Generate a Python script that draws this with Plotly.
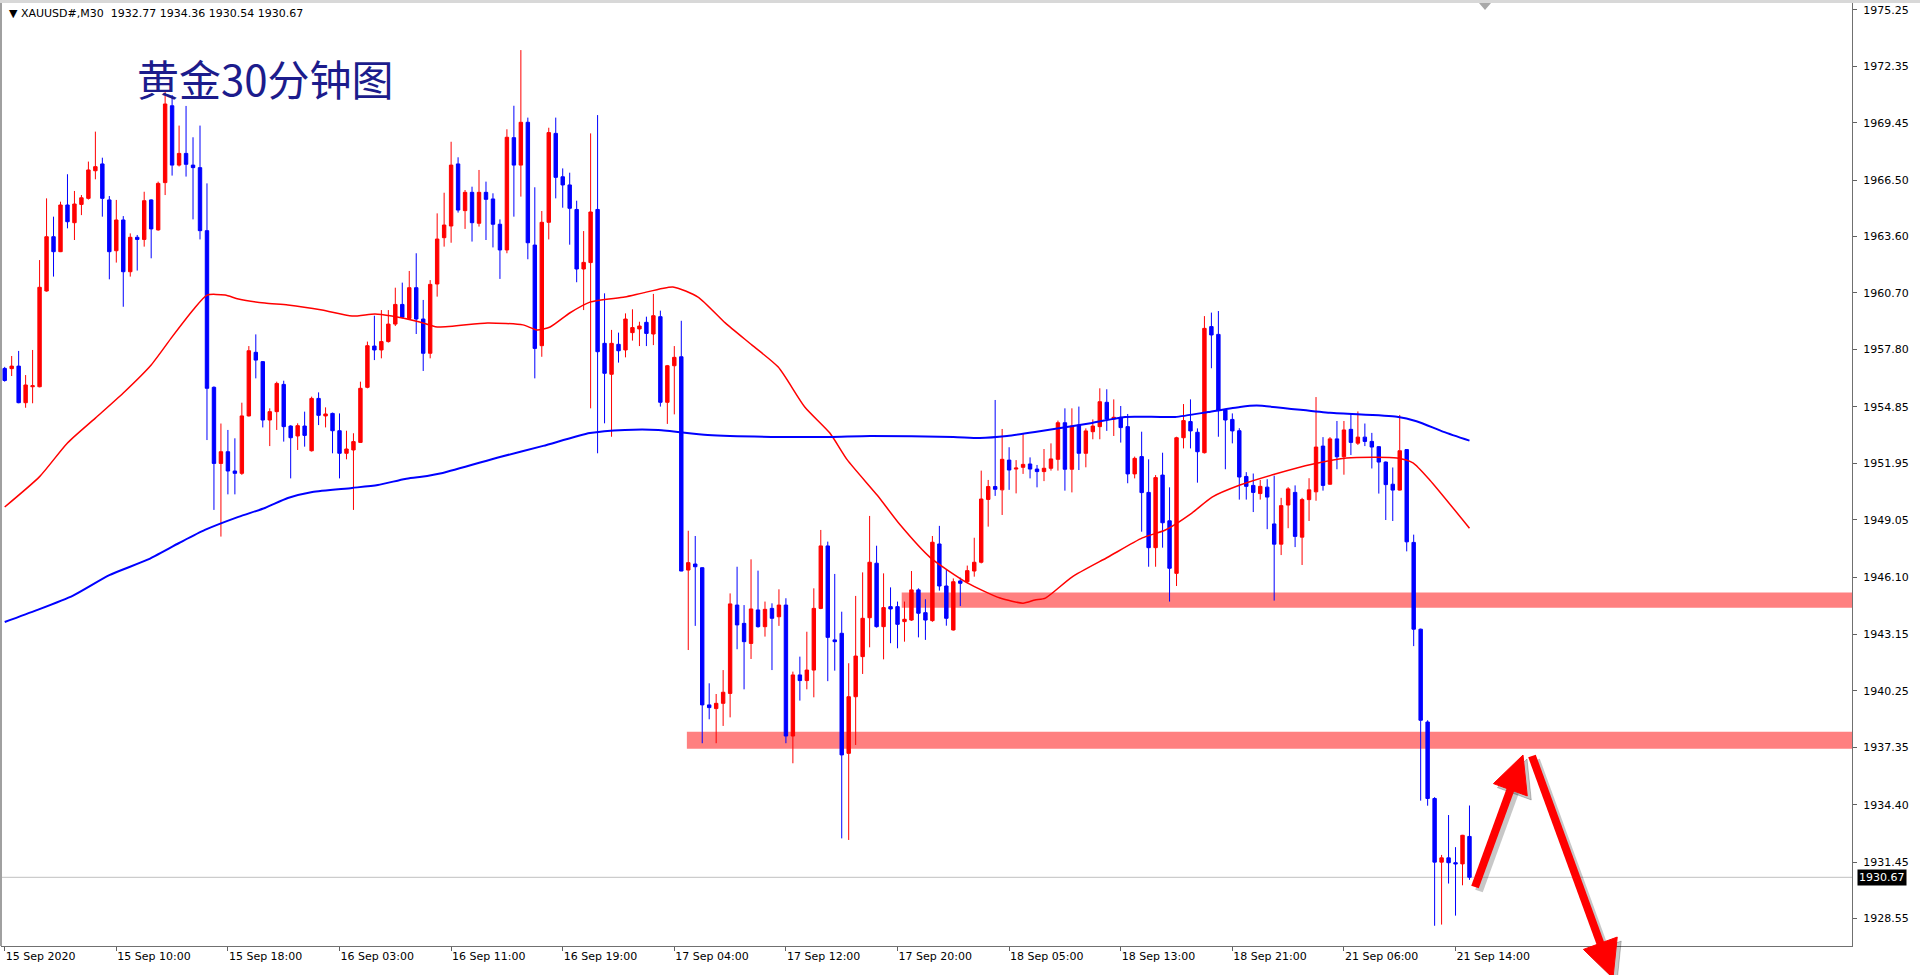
import plotly.graph_objects as go

# ---------------- data ----------------
opens = [1956.82, 1956.81, 1956.94, 1955.06, 1955.88, 1955.88, 1960.80, 1963.59, 1962.82, 1965.22,
         1964.31, 1965.25, 1965.56, 1966.98, 1967.33, 1965.48, 1962.87, 1964.45, 1961.79, 1963.56,
         1963.45, 1965.48, 1963.94, 1966.37, 1970.32, 1967.27, 1967.87, 1967.27, 1967.14, 1963.90,
         1955.85, 1951.94, 1952.54, 1951.55, 1951.43, 1954.38, 1957.65, 1957.17, 1954.17, 1954.60,
         1956.00, 1953.86, 1953.35, 1953.86, 1952.59, 1955.28, 1954.38, 1954.51, 1953.62, 1952.46,
         1952.63, 1953.02, 1955.85, 1957.97, 1957.77, 1958.20, 1959.10, 1960.11, 1959.39, 1960.97,
         1959.36, 1957.60, 1961.16, 1963.54, 1964.14, 1967.33, 1964.93, 1965.87, 1964.28, 1965.87,
         1965.53, 1964.23, 1962.91, 1968.68, 1967.27, 1969.47, 1963.16, 1957.99, 1964.33, 1968.90,
         1966.67, 1966.25, 1964.99, 1961.93, 1962.26, 1964.99, 1958.11, 1956.52, 1958.06, 1957.77,
         1958.66, 1958.85, 1959.19, 1958.59, 1959.48, 1955.08, 1956.96, 1957.42, 1946.46, 1946.77,
         1946.58, 1939.53, 1939.34, 1939.61, 1940.12, 1944.66, 1943.72, 1942.69, 1944.41, 1943.55,
         1944.49, 1944.06, 1944.66, 1937.93, 1941.07, 1940.78, 1941.32, 1944.49, 1947.70, 1942.87,
         1943.21, 1937.04, 1939.95, 1942.01, 1944.01, 1946.81, 1943.55, 1944.58, 1944.58, 1943.81,
         1943.89, 1945.44, 1944.27, 1943.86, 1947.80, 1945.64, 1943.38, 1945.90, 1945.86, 1946.41,
         1946.86, 1950.09, 1950.75, 1950.58, 1952.11, 1951.65, 1951.74, 1951.91, 1951.65, 1951.52,
         1951.69, 1952.15, 1954.03, 1951.64, 1953.91, 1952.46, 1953.57, 1953.83, 1955.08, 1954.22,
         1954.31, 1953.83, 1951.40, 1952.29, 1950.45, 1947.61, 1951.34, 1948.99, 1946.29, 1953.26,
         1954.09, 1953.54, 1952.49, 1958.97, 1958.57, 1954.68, 1954.20, 1953.62, 1951.27, 1950.81,
         1950.39, 1950.72, 1948.83, 1947.79, 1949.80, 1950.45, 1948.15, 1950.08, 1950.48, 1952.83,
         1950.87, 1953.20, 1952.28, 1953.69, 1952.98, 1953.29, 1953.07, 1952.80, 1952.01, 1950.87,
         1950.57, 1952.65, 1947.88, 1943.42, 1938.65, 1934.72, 1931.45, 1931.67, 1931.42, 1931.36,
         1932.77]
highs = [1956.90, 1957.46, 1957.72, 1956.48, 1957.77, 1962.39, 1965.56, 1964.62, 1965.39, 1966.80,
         1965.94, 1965.73, 1967.45, 1968.99, 1967.65, 1965.68, 1965.48, 1964.65, 1963.76, 1963.68,
         1965.90, 1965.51, 1966.42, 1971.04, 1970.87, 1969.30, 1970.31, 1968.70, 1969.30, 1966.33,
         1955.90, 1953.99, 1953.66, 1953.23, 1955.06, 1957.97, 1958.57, 1957.20, 1954.77, 1956.14,
         1956.19, 1953.90, 1954.00, 1954.60, 1955.37, 1955.59, 1954.82, 1954.55, 1954.51, 1953.62,
         1953.49, 1956.14, 1958.20, 1959.53, 1959.82, 1959.82, 1960.97, 1961.23, 1961.83, 1962.74,
         1960.34, 1961.36, 1964.79, 1965.85, 1968.47, 1967.67, 1965.99, 1966.16, 1967.02, 1966.42,
         1965.82, 1964.48, 1969.11, 1970.32, 1973.18, 1969.71, 1966.13, 1964.91, 1969.19, 1969.71,
         1967.10, 1966.88, 1965.44, 1963.88, 1968.90, 1969.84, 1960.68, 1958.80, 1958.66, 1959.65,
         1959.86, 1959.22, 1959.48, 1960.65, 1959.79, 1957.00, 1957.97, 1959.27, 1948.48, 1948.21,
         1946.60, 1940.64, 1940.09, 1941.32, 1945.26, 1946.63, 1944.66, 1947.01, 1946.43, 1944.84,
         1944.75, 1945.47, 1945.01, 1941.24, 1942.01, 1943.29, 1945.52, 1948.52, 1947.92, 1946.26,
         1944.32, 1941.67, 1945.13, 1946.34, 1949.24, 1947.71, 1946.29, 1945.57, 1944.84, 1944.84,
         1946.41, 1945.52, 1944.96, 1948.21, 1948.73, 1946.50, 1946.03, 1946.07, 1946.69, 1948.12,
         1951.57, 1951.09, 1955.20, 1953.71, 1952.77, 1952.11, 1953.49, 1952.25, 1951.86, 1952.68,
         1952.97, 1954.14, 1954.77, 1954.77, 1954.86, 1953.74, 1954.20, 1955.80, 1955.75, 1955.23,
         1954.89, 1954.48, 1952.29, 1953.57, 1952.15, 1951.34, 1952.49, 1950.71, 1953.31, 1954.99,
         1955.23, 1953.74, 1959.51, 1959.69, 1959.77, 1954.70, 1954.51, 1953.75, 1951.49, 1951.42,
         1951.09, 1951.13, 1951.31, 1950.17, 1950.72, 1950.81, 1950.17, 1951.18, 1955.35, 1953.29,
         1953.29, 1954.12, 1954.12, 1954.48, 1954.61, 1953.99, 1953.51, 1952.83, 1952.04, 1951.73,
         1954.43, 1952.65, 1948.28, 1943.45, 1938.74, 1934.79, 1931.82, 1933.87, 1932.22, 1932.85,
         1934.36]
lows = [1956.14, 1956.43, 1955.03, 1954.80, 1955.03, 1955.85, 1960.77, 1961.54, 1962.80, 1964.02,
        1963.42, 1964.70, 1965.50, 1966.54, 1964.62, 1961.40, 1962.26, 1959.99, 1961.54, 1961.85,
        1963.08, 1962.48, 1963.90, 1965.73, 1966.73, 1967.20, 1966.68, 1964.48, 1963.45, 1953.14,
        1949.55, 1948.18, 1950.35, 1950.35, 1951.35, 1954.35, 1956.31, 1953.79, 1952.83, 1953.66,
        1953.06, 1951.17, 1952.63, 1952.80, 1952.55, 1953.91, 1953.79, 1952.46, 1951.17, 1952.15,
        1949.55, 1953.00, 1955.80, 1957.25, 1957.34, 1958.15, 1959.00, 1959.39, 1959.35, 1958.59,
        1956.69, 1957.34, 1960.51, 1963.08, 1963.28, 1964.83, 1963.99, 1963.34, 1964.11, 1963.42,
        1963.04, 1961.42, 1962.74, 1964.62, 1965.65, 1962.43, 1956.31, 1957.42, 1963.45, 1965.56,
        1965.08, 1963.18, 1961.25, 1959.82, 1954.77, 1952.46, 1954.00, 1953.31, 1957.12, 1957.39,
        1958.25, 1957.97, 1957.97, 1958.02, 1954.86, 1953.97, 1954.46, 1946.40, 1942.35, 1943.59,
        1937.56, 1938.79, 1937.56, 1938.45, 1938.89, 1942.39, 1940.33, 1941.89, 1943.50, 1943.04,
        1941.32, 1943.59, 1937.56, 1936.53, 1939.75, 1940.33, 1939.92, 1944.45, 1940.75, 1941.29,
        1932.67, 1932.59, 1937.47, 1941.12, 1942.49, 1943.50, 1941.87, 1942.70, 1942.44, 1942.78,
        1943.85, 1943.00, 1942.87, 1943.80, 1945.40, 1943.60, 1943.35, 1944.61, 1945.78, 1946.12,
        1946.80, 1948.69, 1950.27, 1949.29, 1950.58, 1950.40, 1951.40, 1951.17, 1950.71, 1951.03,
        1951.57, 1951.57, 1950.54, 1950.45, 1951.60, 1951.74, 1953.18, 1953.18, 1953.61, 1953.35,
        1953.01, 1950.92, 1951.17, 1948.43, 1946.63, 1946.63, 1947.61, 1944.84, 1945.64, 1952.71,
        1952.71, 1950.95, 1952.45, 1956.83, 1953.31, 1951.64, 1952.97, 1950.08, 1950.08, 1949.44,
        1950.08, 1948.56, 1944.89, 1947.23, 1948.61, 1947.64, 1946.72, 1948.98, 1950.02, 1950.54,
        1950.85, 1951.64, 1951.36, 1952.37, 1952.89, 1952.83, 1951.68, 1950.39, 1949.03, 1948.98,
        1950.55, 1947.42, 1942.55, 1934.61, 1934.35, 1928.18, 1928.24, 1930.35, 1928.70, 1930.26,
        1930.54]
closes = [1956.20, 1956.94, 1955.06, 1955.97, 1955.93, 1960.99, 1963.59, 1962.82, 1965.22, 1964.36,
          1965.27, 1965.59, 1967.02, 1967.19, 1965.56, 1962.82, 1964.45, 1961.79, 1963.56, 1963.45,
          1965.44, 1963.99, 1966.33, 1970.41, 1967.27, 1967.87, 1967.31, 1967.14, 1963.90, 1955.80,
          1951.94, 1952.54, 1951.55, 1951.43, 1954.38, 1957.73, 1957.25, 1954.17, 1954.60, 1956.05,
          1953.83, 1953.26, 1953.88, 1953.38, 1955.28, 1954.41, 1954.48, 1953.62, 1952.46, 1952.68,
          1953.06, 1955.80, 1957.99, 1957.77, 1958.20, 1959.10, 1960.11, 1959.45, 1960.97, 1959.36,
          1957.60, 1961.14, 1963.47, 1964.19, 1967.27, 1964.96, 1965.87, 1964.31, 1965.87, 1965.51,
          1964.23, 1962.91, 1968.70, 1967.27, 1969.47, 1963.28, 1957.85, 1964.33, 1968.94, 1966.64,
          1966.25, 1965.05, 1961.93, 1962.27, 1964.86, 1957.68, 1956.57, 1958.11, 1957.73, 1959.36,
          1958.92, 1959.00, 1958.62, 1959.53, 1955.08, 1956.96, 1957.39, 1946.41, 1946.84, 1946.63,
          1939.53, 1939.39, 1939.61, 1940.18, 1944.72, 1943.64, 1942.78, 1944.46, 1943.55, 1944.44,
          1943.98, 1944.66, 1937.93, 1941.07, 1940.78, 1941.32, 1944.49, 1947.70, 1943.00, 1942.78,
          1936.96, 1939.95, 1942.04, 1943.98, 1946.86, 1943.55, 1944.53, 1944.46, 1943.67, 1943.93,
          1945.44, 1944.24, 1943.89, 1947.89, 1945.64, 1943.98, 1945.86, 1945.78, 1946.43, 1946.86,
          1950.11, 1950.75, 1950.61, 1952.15, 1951.60, 1951.70, 1951.89, 1951.65, 1951.52, 1951.69,
          1952.17, 1954.03, 1951.64, 1953.86, 1952.46, 1953.61, 1953.86, 1955.11, 1954.22, 1954.31,
          1953.78, 1951.40, 1952.20, 1950.44, 1947.61, 1951.21, 1948.89, 1946.55, 1953.26, 1954.14,
          1953.61, 1952.54, 1958.88, 1958.54, 1954.68, 1954.17, 1953.61, 1951.24, 1950.76, 1950.45,
          1950.76, 1950.21, 1947.79, 1949.77, 1950.63, 1948.19, 1950.08, 1950.58, 1952.78, 1950.81,
          1953.20, 1952.28, 1953.66, 1953.02, 1953.29, 1953.07, 1952.78, 1952.01, 1950.85, 1950.57,
          1952.59, 1947.91, 1943.42, 1938.74, 1934.72, 1931.45, 1931.67, 1931.42, 1931.36, 1932.83,
          1930.67]
bar_index = list(range(len(opens)))

tick_positions = [0, 16, 32, 48, 64, 80, 96, 112, 128, 144, 160, 176, 192, 208]
tick_labels = ["15 Sep 2020", "15 Sep 10:00", "15 Sep 18:00", "16 Sep 03:00", "16 Sep 11:00",
               "16 Sep 19:00", "17 Sep 04:00", "17 Sep 12:00", "17 Sep 20:00", "18 Sep 05:00",
               "18 Sep 13:00", "18 Sep 21:00", "21 Sep 06:00", "21 Sep 14:00"]

price_ticks = [1975.25, 1972.35, 1969.45, 1966.50, 1963.60, 1960.70, 1957.80, 1954.85, 1951.95,
               1949.05, 1946.10, 1943.15, 1940.25, 1937.35, 1934.40, 1931.45, 1928.55]

ma_red_x = [0, 5, 9, 13, 17, 21, 24, 27, 29, 31.6, 33.5, 37.3, 40.6, 45.5, 49.8, 53.1, 55.5, 59.5,
            62, 69.2, 74.3, 76.3, 78.2, 81, 83.9, 88.9, 91.4, 95.8, 99.4, 103.3, 107.1, 110.9,
            114.7, 118.3, 120.8, 125.1, 128.4, 132.7, 138, 142.7, 146, 147.7, 149.2, 153, 158.2,
            163.1, 166.4, 170.2, 173.1, 177.1, 181.9, 187.6, 192.4, 199.6, 201.9, 204.3, 210]
ma_red_y = [1949.70, 1951.26, 1952.99, 1954.27, 1955.56, 1957.00, 1958.44, 1959.82, 1960.59, 1960.59,
            1960.39, 1960.18, 1960.08, 1959.82, 1959.51, 1959.62, 1959.51, 1959.21, 1958.95, 1959.16,
            1959.06, 1958.80, 1958.95, 1959.67, 1960.23, 1960.49, 1960.69, 1961.01, 1960.49, 1959.16,
            1958.03, 1956.89, 1954.84, 1953.50, 1952.12, 1950.30, 1948.77, 1947.10, 1945.80, 1945.02,
            1944.76, 1944.92, 1945.02, 1946.10, 1947.13, 1948.11, 1948.52, 1949.39, 1950.21, 1950.83,
            1951.37, 1951.91, 1952.22, 1952.22, 1951.97, 1951.09, 1948.61]

ma_blue_x = [0, 4.6, 9.8, 15, 20.4, 25, 28.7, 33.5, 37.3, 40.6, 44.1, 49.8, 53.5, 57.4, 59.5, 62.8,
             71, 77.2, 83.9, 88.9, 93.7, 100.8, 111.4, 118.3, 124.1, 136, 139.8, 143.7, 147.7,
             155.9, 160.6, 167.8, 172.5, 177.1, 179.5, 190, 199.6, 202.4, 206.3, 210]
ma_blue_y = [1943.79, 1944.40, 1945.15, 1946.20, 1946.98, 1947.85, 1948.52, 1949.19, 1949.65, 1950.16,
             1950.47, 1950.68, 1950.83, 1951.14, 1951.24, 1951.45, 1952.27, 1952.84, 1953.50, 1953.66,
             1953.66, 1953.40, 1953.30, 1953.30, 1953.35, 1953.30, 1953.25, 1953.35, 1953.55, 1954.02,
             1954.33, 1954.33, 1954.58, 1954.84, 1954.91, 1954.54, 1954.34, 1954.11, 1953.56, 1953.11]

zone_start = [128.6, 97.8]
zone_low = [1944.52, 1937.28]
zone_high = [1945.30, 1938.15]

last_price = 1930.67
header_text = "\u25BC XAUUSD#,M30&nbsp;&nbsp;1932.77 1934.36 1930.54 1930.67"
title_text = "黄金30分钟图"

# ---------------- geometry ----------------
W, H = 1920, 975
ML, MR, MT, MB = 2, 68, 3, 29
PW, PH = W - ML - MR, H - MT - MB
X_RANGE = [-0.387, 264.84]
Y_RANGE = [1927.14, 1975.60]


def px_x(px):
    return (px - ML) / PW


def px_y(py):
    return (H - MB - py) / PH


fig = go.Figure()

fig.add_trace(go.Candlestick(
    x=bar_index, open=opens, high=highs, low=lows, close=closes,
    increasing=dict(line=dict(color="#ff0000", width=1), fillcolor="#ff0000"),
    decreasing=dict(line=dict(color="#0000ff", width=1), fillcolor="#0000ff"),
    whiskerwidth=0, hoverinfo="skip", showlegend=False,
))

fig.add_trace(go.Scatter(x=ma_red_x, y=ma_red_y, mode="lines",
                         line=dict(color="#ff0000", width=1.5, shape="spline", smoothing=0.6),
                         hoverinfo="skip", showlegend=False))
fig.add_trace(go.Scatter(x=ma_blue_x, y=ma_blue_y, mode="lines",
                         line=dict(color="#0000ff", width=2, shape="spline", smoothing=0.6),
                         hoverinfo="skip", showlegend=False))

shapes = []
# support / resistance zones
for xs, lo, hi in zip(zone_start, zone_low, zone_high):
    shapes.append(dict(type="rect", xref="x", yref="y", x0=xs, x1=X_RANGE[1], y0=lo, y1=hi,
                       fillcolor="#ff8080", line=dict(width=0), layer="below"))
# current price line
shapes.append(dict(type="line", xref="paper", yref="y", x0=0, x1=1, y0=last_price, y1=last_price,
                    line=dict(color="#c0c0c0", width=1), layer="below"))


def arrow(tail, tip, color, head_len=37, half_w=18, shaft_w=8, dx=0, dy=0):
    tx, ty = tail[0] + dx, tail[1] + dy
    hx, hy = tip[0] + dx, tip[1] + dy
    vx, vy = hx - tx, hy - ty
    ln = (vx * vx + vy * vy) ** 0.5
    ux, uy = vx / ln, vy / ln
    bx, by = hx - ux * head_len, hy - uy * head_len
    px_, py_ = -uy, ux
    c1 = (bx + px_ * half_w, by + py_ * half_w)
    c2 = (bx - px_ * half_w, by - py_ * half_w)
    res = [dict(type="line", xref="paper", yref="paper",
                x0=px_x(tx), y0=px_y(ty), x1=px_x(bx + ux * 4), y1=px_y(by + uy * 4),
                line=dict(color=color, width=shaft_w), layer="above")]
    path = "M {},{} L {},{} L {},{} Z".format(px_x(hx), px_y(hy), px_x(c1[0]), px_y(c1[1]),
                                               px_x(c2[0]), px_y(c2[1]))
    res.append(dict(type="path", xref="paper", yref="paper", path=path,
                    fillcolor=color, line=dict(color=color, width=1), layer="above"))
    return res


up_arrow = ((1475, 887), (1523, 755))
down_arrow = ((1532, 756), (1613, 978))
for tail, tip in (up_arrow, down_arrow):
    shapes += arrow(tail, tip, "rgba(0,0,0,0.22)", dx=4, dy=4)
for tail, tip in (up_arrow, down_arrow):
    shapes += arrow(tail, tip, "#ff0000")

# chart-shift marker at the top
shapes.append(dict(type="path", xref="paper", yref="paper",
                   path="M {},{} L {},{} L {},{} Z".format(px_x(1479), px_y(3), px_x(1491), px_y(3),
                                                         px_x(1485), px_y(10)),
                   fillcolor="#a8a8a8", line=dict(width=0)))
# window frame strips
shapes.append(dict(type="rect", xref="paper", yref="paper", x0=px_x(0), x1=px_x(2), y0=px_y(946),
                   y1=px_y(0), fillcolor="#a0a0a0", line=dict(width=0)))
shapes.append(dict(type="rect", xref="paper", yref="paper", x0=px_x(0), x1=px_x(1920), y0=px_y(3),
                   y1=px_y(0), fillcolor="#d8d8d8", line=dict(width=0)))

annotations = [
    dict(text=header_text, xref="paper", yref="paper", x=px_x(7), y=px_y(14), xanchor="left",
         yanchor="middle", showarrow=False,
         font=dict(family="DejaVu Sans, sans-serif", size=11, color="#000000")),
    dict(text=title_text, xref="paper", yref="paper", x=px_x(135), y=px_y(78), xanchor="left",
         yanchor="middle", showarrow=False,
         font=dict(family="Noto Sans CJK SC, sans-serif", size=42, color="#1c1c8c")),
    dict(text=f"{last_price:.2f}", xref="paper", yref="y", x=1, y=last_price, xanchor="left",
         yanchor="middle", xshift=5, showarrow=False, bgcolor="#000000", borderpad=1,
         font=dict(family="DejaVu Sans, sans-serif", size=11, color="#ffffff")),
]

fig.update_layout(
    width=W, height=H, autosize=False,
    margin=dict(l=ML, r=MR, t=MT, b=MB, pad=0),
    paper_bgcolor="#ffffff", plot_bgcolor="#ffffff",
    shapes=shapes, annotations=annotations,
    showlegend=False, hovermode=False,
    xaxis=dict(range=X_RANGE, rangeslider=dict(visible=False), showgrid=False, zeroline=False,
               tickmode="array", tickvals=tick_positions, ticktext=tick_labels,
               ticks="outside", ticklen=4, tickcolor="#606060", ticklabelposition="outside right",
               tickfont=dict(family="DejaVu Sans, sans-serif", size=11, color="#000000"),
               showline=True, linecolor="#707070", linewidth=1, mirror=True, fixedrange=True),
    yaxis=dict(range=Y_RANGE, side="right", showgrid=False, zeroline=False,
               tickmode="array", tickvals=price_ticks, ticktext=[f"{v:.2f}" for v in price_ticks],
               ticks="outside", ticklen=4, tickcolor="#606060", ticklabelstandoff=4,
               tickfont=dict(family="DejaVu Sans, sans-serif", size=11, color="#000000"),
               showline=True, linecolor="#707070", linewidth=1, mirror=True, fixedrange=True),
)

fig.write_html("out.html", config={"displayModeBar": False},
               post_script="document.body.style.margin='0';document.body.style.overflow='hidden';")
